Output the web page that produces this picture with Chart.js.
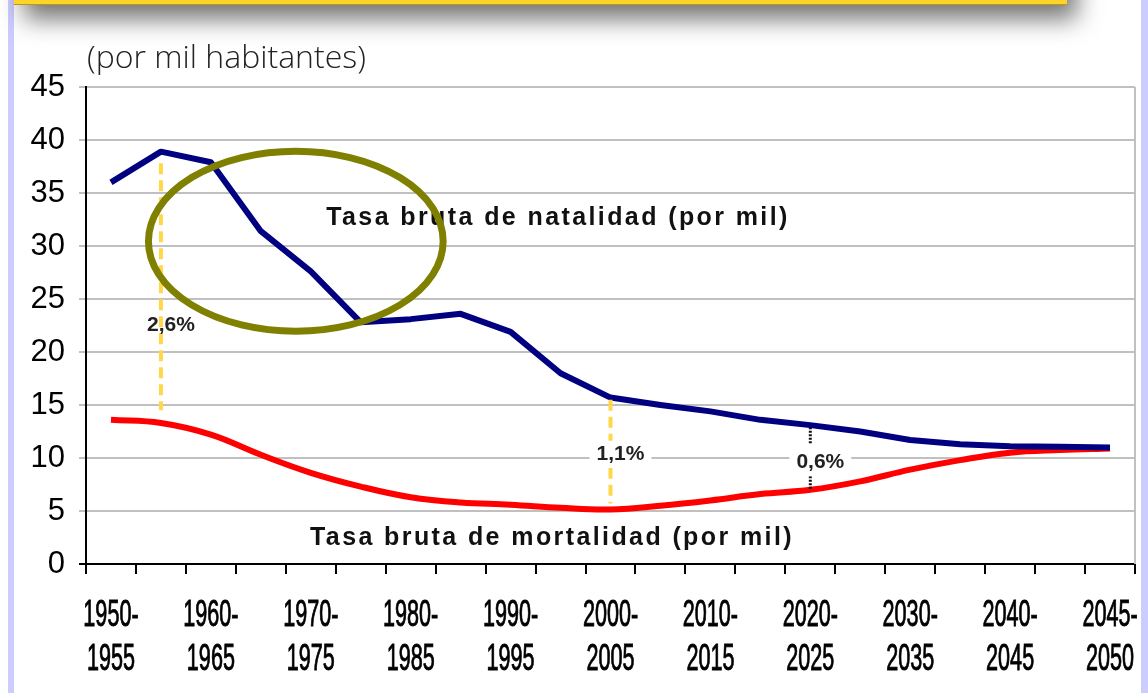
<!DOCTYPE html>
<html>
<head>
<meta charset="utf-8">
<script src="https://cdn.jsdelivr.net/npm/chart.js@4"></script>
<style>
  html, body { margin: 0; padding: 0; background: #fff; }
  canvas { display: block; }
</style>
</head>
<body>
<canvas id="tasasChart" width="1148" height="693"></canvas>
<script>
// x labels (only every other period is written under the axis)
const xTickLabels = [
  ['1950-', '1955'], '', ['1960-', '1965'], '', ['1970-', '1975'], '',
  ['1980-', '1985'], '', ['1990-', '1995'], '', ['2000-', '2005'], '',
  ['2010-', '2015'], '', ['2020-', '2025'], '', ['2030-', '2035'], '',
  ['2040-', '2045'], '', ['2045-', '2050']
]
const yTicks = [0, 5, 10, 15, 20, 25, 30, 35, 40, 45]

// tasa bruta de natalidad / mortalidad (por mil)
const birthRate = [36.0, 38.9, 37.9, 31.4, 27.6, 22.8, 23.1, 23.6, 21.9, 18.0, 15.7,
                   15.0, 14.4, 13.6, 13.1, 12.5, 11.7, 11.3, 11.1, 11.05, 11.0]
const deathRate = [13.6, 13.3, 12.2, 10.3, 8.6, 7.3, 6.3, 5.8, 5.6, 5.3, 5.15,
                   5.5, 6.0, 6.6, 7.0, 7.8, 8.9, 9.8, 10.5, 10.75, 10.9]

// growth markers between both curves
const gapIndex = [1, 10, 14]
const gapLabels = ['2,6%', '1,1%', '0,6%']
const gapTop = [37.8, 15.5, 12.9]
const gapBottom = [14.5, 5.7, 7.0]

const frame = {
  id: 'frame',
  beforeDraw(chart) {
    const c = chart.ctx
    c.save()
    c.fillStyle = '#fff'
    c.fillRect(0, 0, chart.width, chart.height)
    c.fillStyle = '#ccccff'
    c.fillRect(8, 0, 6, chart.height)
    c.fillRect(1141, 0, 7, chart.height)
    // yellow banner with its shadow
    c.shadowColor = 'rgba(0,0,0,0.55)'
    c.shadowBlur = 24
    c.shadowOffsetX = 10
    c.shadowOffsetY = 14
    c.fillStyle = '#ffd42a'
    c.fillRect(14, -40, 1053, 45)
    c.shadowColor = 'transparent'
    c.fillRect(14, -40, 1053, 45)
    c.fillStyle = '#b89a10'
    c.fillRect(14, 4, 1053, 1)
    // units
    c.fillStyle = '#222'
    c.font = '300 32px "Open Sans", sans-serif'
    c.textBaseline = 'alphabetic'
    c.fillText('(por mil habitantes)', 87, 68)
    c.restore()
  },
  afterDatasetsDraw(chart) {
    const c = chart.ctx
    const x = chart.scales.x
    const y = chart.scales.y
    const area = chart.chartArea
    c.save()
    // right border of plot area
    c.strokeStyle = '#c0c0c0'
    c.lineWidth = 2
    c.beginPath()
    c.moveTo(area.right, area.top)
    c.lineTo(area.right, area.bottom)
    c.stroke()

    gapIndex.forEach((idx, i) => {
      const px = x.getPixelForValue(idx)
      const top = y.getPixelForValue(gapTop[i])
      const bot = y.getPixelForValue(gapBottom[i])
      const ly = i === 0 ? y.getPixelForValue(22.5) : y.getPixelForValue(i === 1 ? 10.4 : 9.6)
      const lx = px + 10
      c.font = 'bold 21px "Liberation Sans", Arial, sans-serif'
      c.textAlign = 'center'
      c.textBaseline = 'middle'
      if (i < 2) {
        c.strokeStyle = '#ffd84a'
        c.lineWidth = 4
        c.setLineDash([11, 6])
        c.beginPath()
        c.moveTo(px, top)
        c.lineTo(px, bot)
        c.stroke()
      } else {
        c.strokeStyle = '#111'
        c.lineWidth = 3
        c.setLineDash([2, 1.5])
        c.beginPath()
        c.moveTo(px, top)
        c.lineTo(px, y.getPixelForValue(11.3))
        c.moveTo(px, y.getPixelForValue(8.6))
        c.lineTo(px, bot)
        c.stroke()
      }
      c.setLineDash([])
      if (i > 0) {
        const w = c.measureText(gapLabels[i]).width
        c.fillStyle = '#fff'
        c.fillRect(lx - w / 2 - 7, ly - 13, w + 14, 27)
      }
      c.fillStyle = '#222'
      c.fillText(gapLabels[i], lx, ly)
    })

    c.font = 'bold 25px "Liberation Sans", Arial, sans-serif'
    c.letterSpacing = '2.4px'
    c.fillStyle = '#111'
    c.textAlign = 'center'
    c.textBaseline = 'middle'
    c.fillText('Tasa bruta de natalidad (por mil)', 558, y.getPixelForValue(32.6))
    c.fillText('Tasa bruta de mortalidad (por mil)', 552, y.getPixelForValue(2.45))
    c.restore()
  },
  afterDraw(chart) {
    const c = chart.ctx
    const x = chart.scales.x
    const y = chart.scales.y
    const area = chart.chartArea
    const step = x.getPixelForValue(1) - x.getPixelForValue(0)
    c.save()
    c.strokeStyle = '#7f7f00'
    c.lineWidth = 7
    c.beginPath()
    c.ellipse(x.getPixelForValue(3.7), y.getPixelForValue(30.45), step * 2.95, 90, 0, 0, Math.PI * 2)
    c.stroke()
    c.restore()

    // condensed period labels under the x axis
    c.save()
    c.fillStyle = '#000'
    c.strokeStyle = '#000'
    c.lineWidth = 0.9
    c.font = '36px "Liberation Sans", Arial, sans-serif'
    c.textAlign = 'center'
    c.textBaseline = 'middle'
    xTickLabels.forEach((lab, i) => {
      if (!lab) return
      const px = x.getPixelForValue(i)
      lab.forEach((line, j) => {
        c.save()
        c.translate(px, area.bottom + 52 + j * 44.5)
        c.scale(0.6, 1)
        c.fillText(line, 0, 0)
        c.strokeText(line, 0, 0)
        c.restore()
      })
    })
    c.restore()
  }
}

new Chart(document.getElementById('tasasChart'), {
  type: 'line',
  data: {
    labels: xTickLabels,
    datasets: [{
      label: 'Tasa bruta de natalidad',
      data: birthRate,
      borderColor: '#000080',
      borderWidth: 6,
      pointRadius: 0,
      tension: 0,
      borderJoinStyle: 'round'
    }, {
      label: 'Tasa bruta de mortalidad',
      data: deathRate,
      borderColor: '#ff0000',
      borderWidth: 6,
      pointRadius: 0,
      tension: 0.4,
      borderJoinStyle: 'round'
    }]
  },
  options: {
    responsive: false,
    animation: false,
    devicePixelRatio: 1,
    layout: { padding: { top: 87, right: 13, left: 0, bottom: 0 } },
    plugins: {
      legend: { display: false },
      tooltip: { enabled: false }
    },
    scales: {
      x: {
        offset: true,
        afterFit(scale) {
          scale.height = 129
          scale.paddingLeft = 0
          scale.paddingRight = 0
        },
        border: { color: '#000', width: 2 },
        grid: {
          offset: true,
          drawOnChartArea: false,
          color: '#000',
          lineWidth: 2,
          tickLength: 10
        },
        ticks: { display: false, autoSkip: false }
      },
      y: {
        min: 0,
        max: 45,
        afterFit(scale) { scale.width = 86 },
        afterBuildTicks(scale) { scale.ticks = yTicks.map(v => ({ value: v })) },
        border: { color: '#000', width: 2 },
        grid: {
          color: ctx => ctx.tick && ctx.tick.value === 0 ? '#000' : '#c0c0c0',
          lineWidth: 2,
          tickLength: 7
        },
        ticks: {
          padding: 14,
          color: '#000',
          font: { family: '"Liberation Sans", Arial', size: 31 }
        }
      }
    }
  },
  plugins: [frame]
})
</script>
</body>
</html>
